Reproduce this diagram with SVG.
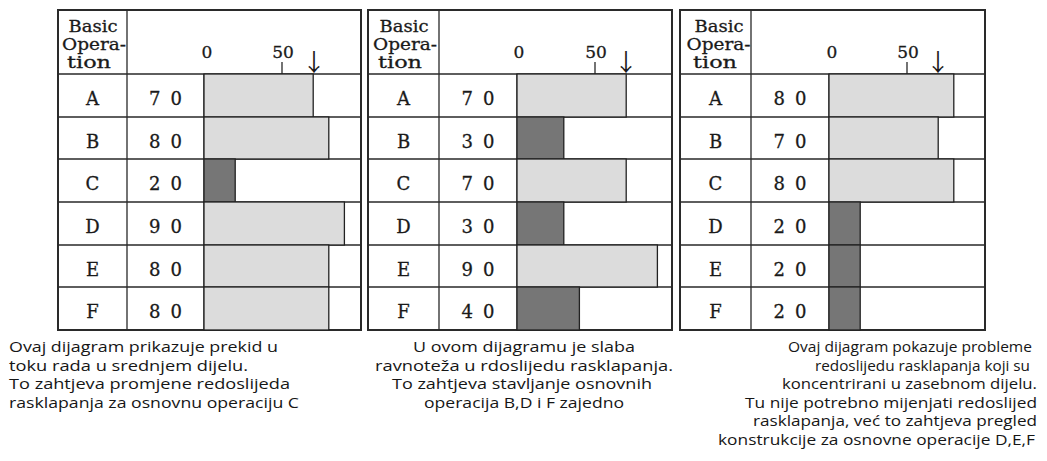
<svg xmlns="http://www.w3.org/2000/svg" width="1047" height="461" viewBox="0 0 1047 461">
<style>
.outer{fill:#fff;stroke:#2a2a2a;stroke-width:2}
.ln{stroke:#2a2a2a;stroke-width:1.3;fill:none}
.lb{fill:#dcdcdc;stroke:#222;stroke-width:1.3}
.db{fill:#767676;stroke:#222;stroke-width:1.3}
.sf{font-family:"DejaVu Serif","Liberation Serif",serif;font-size:17px;fill:#1a1a1a;stroke:#1a1a1a;stroke-width:0.3;text-anchor:middle}
.rw{font-size:18px}
.ar{font-family:"Noto Sans CJK JP","DejaVu Sans",sans-serif;font-size:24px;fill:#1a1a1a;text-anchor:middle}
.cap{font-family:"Open Sans","Noto Sans",sans-serif;font-size:14px;fill:#161616}
</style>
<rect width="1047" height="461" fill="#fff"/>

<g id="table1">
<rect class="outer" x="58" y="10" width="303" height="320"/>
<path class="ln" d="M127 10V330M204 74V330M58 74H361M58 117H361M58 159H361M58 202H361M58 245H361M58 287H361M282 62V74"/>
<rect class="lb" x="204" y="74" width="109.2" height="43"/>
<rect class="lb" x="204" y="117" width="124.8" height="42"/>
<rect class="db" x="204" y="159" width="31.2" height="43"/>
<rect class="lb" x="204" y="202" width="140.4" height="43"/>
<rect class="lb" x="204" y="245" width="124.8" height="42"/>
<rect class="lb" x="204" y="287" width="124.8" height="43"/>
<text class="sf" x="93" y="32" textLength="49" lengthAdjust="spacingAndGlyphs">Basic</text>
<text class="sf" x="94" y="50" textLength="64" lengthAdjust="spacingAndGlyphs">Opera-</text>
<text class="sf" x="89" y="68" textLength="44" lengthAdjust="spacingAndGlyphs">tion</text>
<text class="sf" x="207" y="58">0</text>
<text class="sf" x="283" y="58">50</text>
<text class="ar" x="314" y="71">↓</text>
<text class="sf rw" x="92.5" y="105">A</text>
<text class="sf rw" x="92.5" y="148">B</text>
<text class="sf rw" x="92.5" y="190">C</text>
<text class="sf rw" x="92.5" y="233">D</text>
<text class="sf rw" x="92.5" y="276">E</text>
<text class="sf rw" x="92.5" y="318">F</text>
<text class="sf rw" x="165.5" y="105" textLength="33">7 0</text>
<text class="sf rw" x="165.5" y="148" textLength="33">8 0</text>
<text class="sf rw" x="165.5" y="190" textLength="33">2 0</text>
<text class="sf rw" x="165.5" y="233" textLength="33">9 0</text>
<text class="sf rw" x="165.5" y="276" textLength="33">8 0</text>
<text class="sf rw" x="165.5" y="318" textLength="33">8 0</text>
</g>

<g id="table2">
<rect class="outer" x="368" y="10" width="304" height="320"/>
<path class="ln" d="M439 10V330M517 74V330M368 74H672M368 117H672M368 159H672M368 202H672M368 245H672M368 287H672M595 62V74"/>
<rect class="lb" x="517" y="74" width="109.2" height="43"/>
<rect class="db" x="517" y="117" width="46.8" height="42"/>
<rect class="lb" x="517" y="159" width="109.2" height="43"/>
<rect class="db" x="517" y="202" width="46.8" height="43"/>
<rect class="lb" x="517" y="245" width="140.4" height="42"/>
<rect class="db" x="517" y="287" width="62.4" height="43"/>
<text class="sf" x="404" y="32" textLength="49" lengthAdjust="spacingAndGlyphs">Basic</text>
<text class="sf" x="405" y="50" textLength="64" lengthAdjust="spacingAndGlyphs">Opera-</text>
<text class="sf" x="400" y="68" textLength="44" lengthAdjust="spacingAndGlyphs">tion</text>
<text class="sf" x="519" y="58">0</text>
<text class="sf" x="596" y="58">50</text>
<text class="ar" x="626" y="71">↓</text>
<text class="sf rw" x="403.5" y="105">A</text>
<text class="sf rw" x="403.5" y="148">B</text>
<text class="sf rw" x="403.5" y="190">C</text>
<text class="sf rw" x="403.5" y="233">D</text>
<text class="sf rw" x="403.5" y="276">E</text>
<text class="sf rw" x="403.5" y="318">F</text>
<text class="sf rw" x="478" y="105" textLength="33">7 0</text>
<text class="sf rw" x="478" y="148" textLength="33">3 0</text>
<text class="sf rw" x="478" y="190" textLength="33">7 0</text>
<text class="sf rw" x="478" y="233" textLength="33">3 0</text>
<text class="sf rw" x="478" y="276" textLength="33">9 0</text>
<text class="sf rw" x="478" y="318" textLength="33">4 0</text>
</g>

<g id="table3">
<rect class="outer" x="680" y="10" width="305" height="320"/>
<path class="ln" d="M751 10V330M829 74V330M680 74H985M680 117H985M680 159H985M680 202H985M680 245H985M680 287H985M907 62V74"/>
<rect class="lb" x="829" y="74" width="124.8" height="43"/>
<rect class="lb" x="829" y="117" width="109.2" height="42"/>
<rect class="lb" x="829" y="159" width="124.8" height="43"/>
<rect class="db" x="829" y="202" width="31.2" height="43"/>
<rect class="db" x="829" y="245" width="31.2" height="42"/>
<rect class="db" x="829" y="287" width="31.2" height="43"/>
<text class="sf" x="719" y="32" textLength="49" lengthAdjust="spacingAndGlyphs">Basic</text>
<text class="sf" x="718.5" y="50" textLength="64" lengthAdjust="spacingAndGlyphs">Opera-</text>
<text class="sf" x="715" y="68" textLength="44" lengthAdjust="spacingAndGlyphs">tion</text>
<text class="sf" x="832" y="58">0</text>
<text class="sf" x="908" y="58">50</text>
<text class="ar" x="938" y="71">↓</text>
<text class="sf rw" x="715.5" y="105">A</text>
<text class="sf rw" x="715.5" y="148">B</text>
<text class="sf rw" x="715.5" y="190">C</text>
<text class="sf rw" x="715.5" y="233">D</text>
<text class="sf rw" x="715.5" y="276">E</text>
<text class="sf rw" x="715.5" y="318">F</text>
<text class="sf rw" x="790" y="105" textLength="33">8 0</text>
<text class="sf rw" x="790" y="148" textLength="33">7 0</text>
<text class="sf rw" x="790" y="190" textLength="33">8 0</text>
<text class="sf rw" x="790" y="233" textLength="33">2 0</text>
<text class="sf rw" x="790" y="276" textLength="33">2 0</text>
<text class="sf rw" x="790" y="318" textLength="33">2 0</text>
</g>

<g id="caption1">
<text class="cap" x="9" y="352" textLength="269" lengthAdjust="spacingAndGlyphs">Ovaj dijagram prikazuje prekid u</text>
<text class="cap" x="9" y="370.5" textLength="239" lengthAdjust="spacingAndGlyphs">toku rada u srednjem dijelu.</text>
<text class="cap" x="9" y="389" textLength="281" lengthAdjust="spacingAndGlyphs">To zahtjeva promjene redoslijeda</text>
<text class="cap" x="9" y="407.5" textLength="290" lengthAdjust="spacingAndGlyphs">rasklapanja za osnovnu operaciju C</text>
</g>

<g id="caption2">
<text class="cap" x="413" y="352" textLength="222" lengthAdjust="spacingAndGlyphs">U ovom dijagramu je slaba</text>
<text class="cap" x="375" y="370.5" textLength="298" lengthAdjust="spacingAndGlyphs">ravnoteža u rdoslijedu rasklapanja.</text>
<text class="cap" x="392" y="389" textLength="260" lengthAdjust="spacingAndGlyphs">To zahtjeva stavljanje osnovnih</text>
<text class="cap" x="424" y="407.5" textLength="200" lengthAdjust="spacingAndGlyphs">operacija B,D i F zajedno</text>
</g>

<g id="caption3">
<text class="cap" x="788" y="352" textLength="244" lengthAdjust="spacingAndGlyphs">Ovaj dijagram pokazuje probleme</text>
<text class="cap" x="815" y="370.5" textLength="215" lengthAdjust="spacingAndGlyphs">redoslijedu rasklapanja koji su</text>
<text class="cap" x="782" y="389" textLength="255" lengthAdjust="spacingAndGlyphs">koncentrirani u zasebnom dijelu.</text>
<text class="cap" x="745" y="407.5" textLength="292" lengthAdjust="spacingAndGlyphs">Tu nije potrebno mijenjati redoslijed</text>
<text class="cap" x="753" y="426" textLength="284" lengthAdjust="spacingAndGlyphs">rasklapanja, već to zahtjeva pregled</text>
<text class="cap" x="718" y="444.5" textLength="317" lengthAdjust="spacingAndGlyphs">konstrukcije za osnovne operacije D,E,F</text>
</g>
</svg>
